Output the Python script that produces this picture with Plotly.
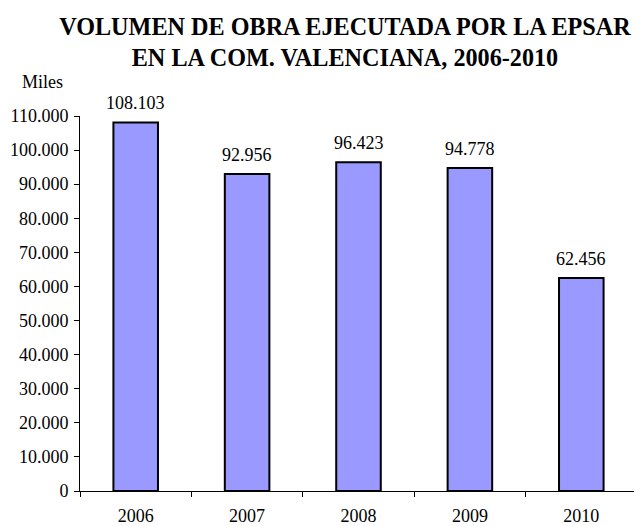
import plotly.graph_objects as go

years = ["2006", "2007", "2008", "2009", "2010"]
values = [108103, 92956, 96423, 94778, 62456]
labels = ["108.103", "92.956", "96.423", "94.778", "62.456"]
ytick_vals = [0, 10000, 20000, 30000, 40000, 50000, 60000, 70000, 80000, 90000, 100000, 110000]
ytick_text = ["0", "10.000", "20.000", "30.000", "40.000", "50.000", "60.000", "70.000",
              "80.000", "90.000", "100.000", "110.000"]

font = "Liberation Serif"
fs = 18

fig = go.Figure(go.Bar(
    x=years, y=values,
    marker=dict(color="#9999FF", line=dict(color="black", width=2)),
    cliponaxis=False,
))

# category positions on the x axis are indices 0..n-1
value_labels = [dict(x=i, y=v, text=t, xref="x", yref="y", showarrow=False,
                     xanchor="center", yanchor="middle", yshift=19,
                     font=dict(family=font, size=fs, color="black"))
                for i, (v, t) in enumerate(zip(values, labels))]

# page body has an 8px default margin, so the figure is sized to fit the window
fig.update_layout(
    width=634, height=518,
    margin=dict(l=72, r=5, t=108, b=35, autoexpand=False),
    paper_bgcolor="white", plot_bgcolor="white",
    bargap=0.6,
    showlegend=False,
    font=dict(family=font, size=fs, color="black"),
    title=dict(
        text="<b>VOLUMEN DE OBRA EJECUTADA POR LA EPSAR<br>EN LA COM. VALENCIANA, 2006-2010</b>",
        x=0.5315, xanchor="center", yref="container", y=1 - 27 / 518, yanchor="middle",
        font=dict(family=font, size=24.2, color="black"),
    ),
    annotations=[dict(text="Miles", xref="paper", yref="paper", x=-0.1077, y=1.0907,
                      xanchor="left", yanchor="middle", showarrow=False,
                      font=dict(family=font, size=fs, color="black"))] + value_labels,
)
fig.update_xaxes(type="category", range=[-0.5, len(years) - 0.5],
                 showline=True, linecolor="black", linewidth=1,
                 ticks="outside", tickson="boundaries", ticklen=5, tickcolor="black",
                 showgrid=False, tickfont=dict(size=fs), automargin=False,
                 ticklabelstandoff=8)
fig.update_yaxes(range=[0, 110000], tickvals=ytick_vals, ticktext=ytick_text,
                 showline=True, linecolor="black", linewidth=1, ticks="outside",
                 ticklen=5, tickcolor="black", showgrid=False, zeroline=False,
                 tickfont=dict(size=fs), automargin=False, ticklabelstandoff=2)

fig.write_html("out.html")
